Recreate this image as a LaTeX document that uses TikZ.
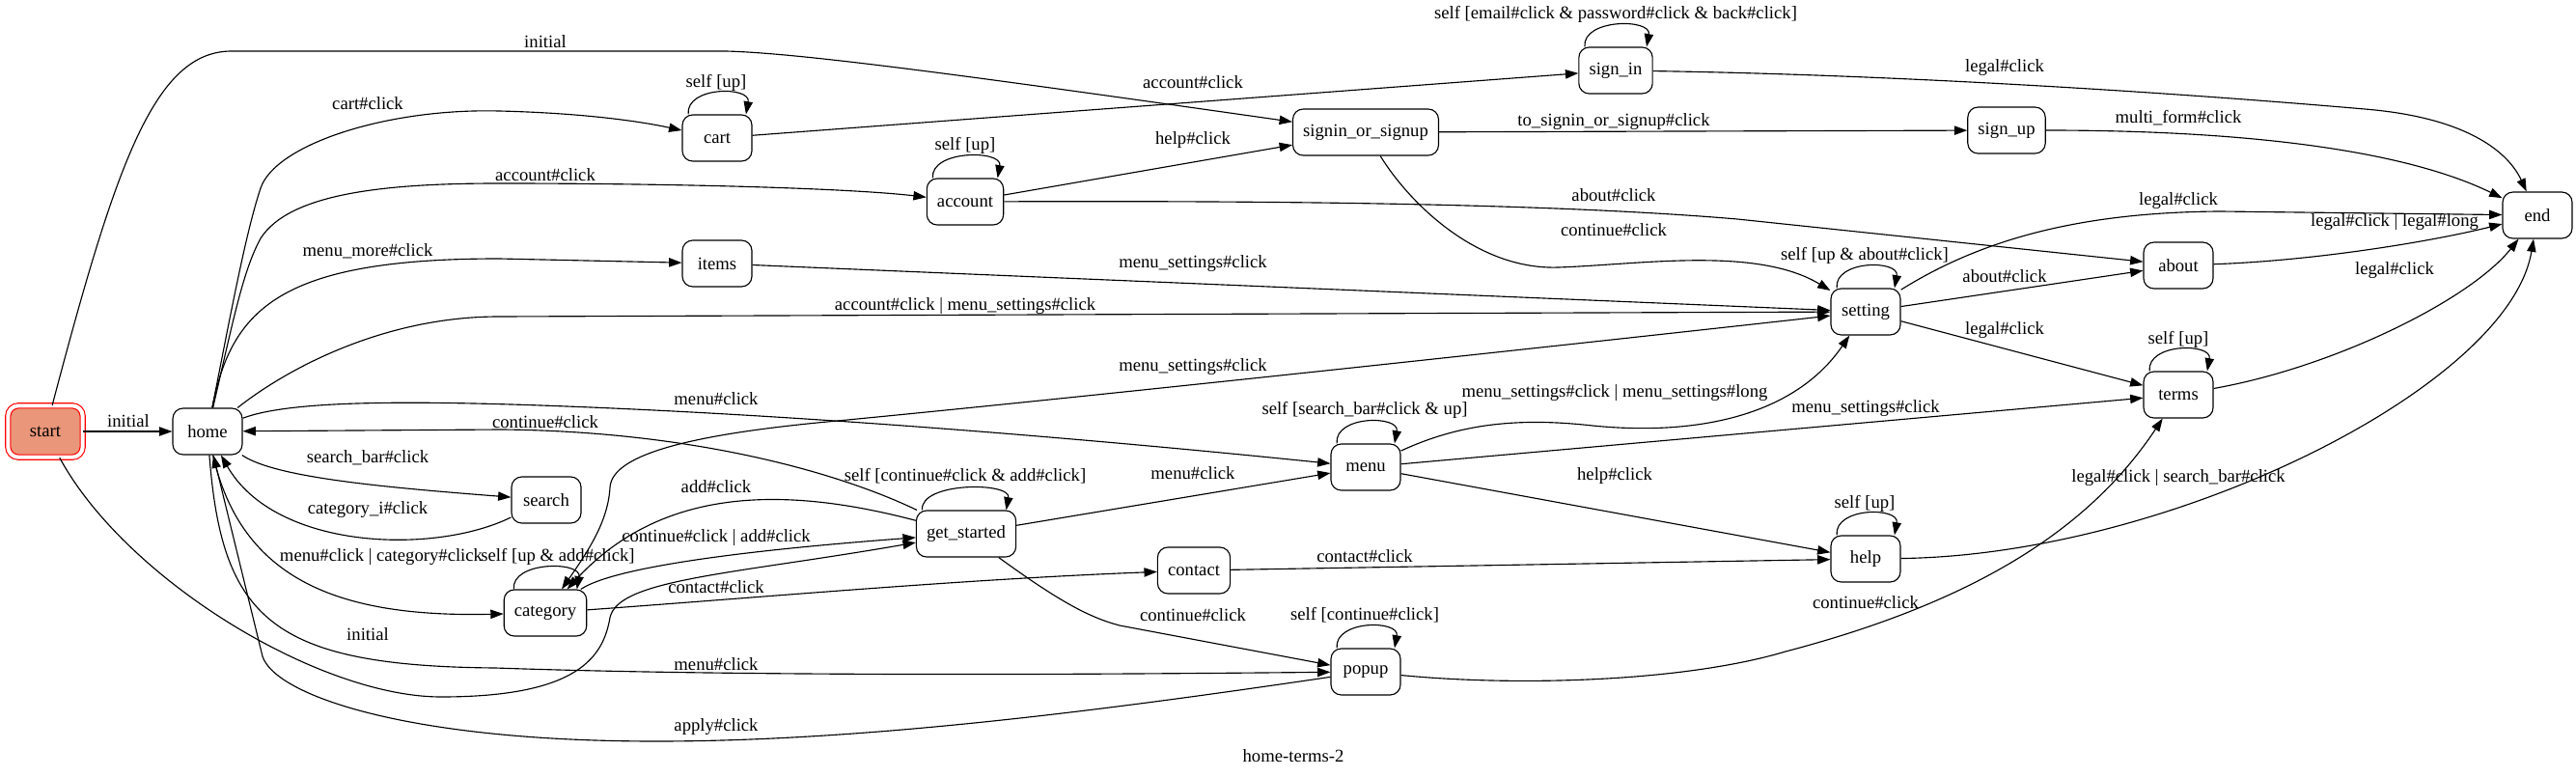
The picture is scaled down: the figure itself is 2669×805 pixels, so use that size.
\documentclass[tikz,border=0pt]{standalone}
\usepackage{fontspec}
\setmainfont{Liberation Serif}
\usetikzlibrary{arrows.meta}
\definecolor{startfill}{HTML}{E9967A}

\begin{document}
\begin{tikzpicture}[x=0.75pt,y=-0.75pt,>={Triangle[length=10pt,width=7pt]},line width=0.85pt,
    state/.style={draw,rounded corners=8pt,minimum width=54pt,minimum height=36pt,inner xsep=8pt,font=\fontsize{14}{16}\selectfont},
    lbl/.style={inner sep=0pt,font=\fontsize{14}{16}\selectfont},
    selfloop/.style={to path={.. controls +(-2pt,22pt) and +(4pt,22pt) .. (\tikztotarget)}}]

    \useasboundingbox (0,0) rectangle (2669,805);

    % states
    \node[state,fill=startfill,draw=red,double=white,double distance=3pt,minimum width=58pt,minimum height=40pt] (start) at (47,447) {start};
    \node[state] (home) at (215,447) {home};
    \node[state] (cart) at (743,143) {cart};
    \node[state] (items) at (743,273) {items};
    \node[state] (search) at (566,518) {search};
    \node[state] (category) at (565,635) {category};
    \node[state] (account) at (1000,209) {account};
    \node[state] (getstarted) at (1001,553) {get\_started};
    \node[state] (contact) at (1237,591) {contact};
    \node[state] (signinup) at (1415,137) {signin\_or\_signup};
    \node[state] (menu) at (1415,484) {menu};
    \node[state] (popup) at (1415,696) {popup};
    \node[state] (signin) at (1674,73) {sign\_in};
    \node[state] (signup) at (2079,135) {sign\_up};
    \node[state] (setting) at (1933,323) {setting};
    \node[state] (help) at (1933,579) {help};
    \node[state] (about) at (2257,275) {about};
    \node[state] (terms) at (2257,409) {terms};
    \node[state] (end) at (2629,223) {end};

    % from start
    \draw[->] (start) -- (home);
    \draw[->] (start) .. controls (120,170) and (160,53) .. (240,53) -- (752,53) .. controls (830,55) and (1000,78) .. (signinup);
    \draw[->] (start) .. controls (130,600) and (330,722) .. (457,722) .. controls (600,722) and (625,680) .. (632,640) .. controls (640,600) and (760,595) .. (getstarted);

    % from home
    \draw[->] (home) .. controls (240,320) and (255,240) .. (270,195) .. controls (285,150) and (400,112) .. (517,115) .. controls (600,117) and (660,125) .. (cart);
    \draw[->] (home) .. controls (242,330) and (252,280) .. (270,247) .. controls (300,200) and (400,190) .. (517,190) .. controls (700,190) and (880,195) .. (account);
    \draw[->] (home) .. controls (240,320) and (290,268) .. (517,268) -- (items);
    \draw[->] (home) .. controls (300,380) and (400,328) .. (517,328) -- (setting);
    \draw[->] (home) .. controls (300,415) and (420,414) .. (612,422) .. controls (900,434) and (1200,462) .. (menu);
    \draw[->] (home) .. controls (285,495) and (400,505) .. (search);
    \draw[->] (home) .. controls (250,600) and (350,640) .. (category);
    \draw[->] (home) .. controls (230,640) and (280,690) .. (513,692) .. controls (800,702) and (1200,698) .. (popup);
    \draw[->] (search) .. controls (450,575) and (285,570) .. (home);
    \draw[->] (getstarted) .. controls (870,490) and (720,447) .. (520,445) -- (home);
    \draw[->] (popup) .. controls (1150,735) and (900,768) .. (680,768) .. controls (420,768) and (285,720) .. (272,680) -- (home);

    % from category
    \draw[->] ([xshift=8pt]category.north west) to[selfloop] ([xshift=-8pt]category.north east);
    \draw[->] (category) .. controls (800,618) and (1000,600) .. (contact);
    \draw[->] (category) .. controls (640,585) and (800,568) .. (getstarted);
    \draw[<->] (category) .. controls (610,570) and (630,540) .. (632,505) .. controls (634,470) and (720,450) .. (857,437) .. controls (1100,414) and (1600,360) .. (setting);

    % from get_started
    \draw[->] ([xshift=5pt]getstarted.north west) to[selfloop] ([xshift=-8pt]getstarted.north east);
    \draw[->] (getstarted) -- (menu);
    \draw[->] (getstarted) .. controls (1100,625) and (1130,640) .. (1160,648) -- (popup);
    \draw[->] (getstarted) .. controls (800,500) and (680,510) .. (category);

    % from menu, contact, popup
    \draw[->] ([xshift=5pt]menu.north west) to[selfloop] ([xshift=-5pt]menu.north east);
    \draw[->] (menu) .. controls (1510,440) and (1570,432) .. (1650,441) .. controls (1760,452) and (1860,430) .. (setting);
    \draw[->] (menu) -- (terms);
    \draw[->] (menu) -- (help);
    \draw[->] (contact) -- (help);
    \draw[->] ([xshift=5pt]popup.north west) to[selfloop] ([xshift=-5pt]popup.north east);
    \draw[->] (popup) .. controls (1580,712) and (1750,705) .. (1850,675) .. controls (2060,620) and (2170,540) .. (terms);

    % from cart, account, items
    \draw[->] ([xshift=5pt]cart.north west) to[selfloop] ([xshift=-5pt]cart.north east);
    \draw[->] (cart) -- (signin);
    \draw[->] ([xshift=5pt]account.north west) to[selfloop] ([xshift=-5pt]account.north east);
    \draw[->] (account) -- (signinup);
    \draw[->] (account) .. controls (1300,208) and (1600,210) .. (1800,227) -- (about);
    \draw[->] (items) -- (setting);

    % from signin_or_signup, sign_in, sign_up
    \draw[->] (signinup) -- (signup);
    \draw[->] (signinup) .. controls (1460,210) and (1530,280) .. (1615,277) .. controls (1700,274) and (1820,255) .. (setting);
    \draw[->] ([xshift=5pt]signin.north west) to[selfloop] ([xshift=-5pt]signin.north east);
    \draw[->] (signin) .. controls (2000,78) and (2300,100) .. (2450,113) .. controls (2560,122) and (2600,160) .. (end);
    \draw[->] (signup) .. controls (2350,135) and (2500,160) .. (end);

    % from setting, about, terms, help
    \draw[->] ([xshift=5pt]setting.north west) to[selfloop] ([xshift=-5pt]setting.north east);
    \draw[->] (setting) .. controls (2050,250) and (2150,220) .. (2300,219) -- (end);
    \draw[->] (setting) -- (about);
    \draw[->] (setting) -- (terms);
    \draw[->] (about) .. controls (2400,270) and (2520,250) .. (end);
    \draw[->] ([xshift=5pt]terms.north west) to[selfloop] ([xshift=-5pt]terms.north east);
    \draw[->] (terms) .. controls (2420,380) and (2560,310) .. (end);
    \draw[->] ([xshift=5pt]help.north west) to[selfloop] ([xshift=-5pt]help.north east);
    \draw[->] (help) .. controls (2250,575) and (2600,400) .. (end);

    % edge labels
    \node[lbl] (l1) at (133,436) {initial};
    \node[lbl] (l2) at (565,43) {initial};
    \node[lbl] (l3) at (381,657) {initial};
    \node[lbl] (l4) at (381,107) {cart\#click};
    \node[lbl] (l5) at (565,181) {account\#click};
    \node[lbl] (l6) at (381,260) {menu\_more\#click};
    \node[lbl] (l7) at (1000,317) {account\#click | menu\_settings\#click};
    \node[lbl] (l8) at (742,413) {menu\#click};
    \node[lbl] (l9) at (565,437) {continue\#click};
    \node[lbl] (l10) at (381,474) {search\_bar\#click};
    \node[lbl] (l11) at (381,528) {category\_i\#click};
    \node[lbl] (l12) at (395,577) {menu\#click | category\#click};
    \node[lbl] (l13) at (578,577) {self [up \& add\#click]};
    \node[lbl] (l14) at (742,688) {menu\#click};
    \node[lbl] (l15) at (742,753) {apply\#click};
    \node[lbl] (l16) at (742,504) {add\#click};
    \node[lbl] (l17) at (742,557) {continue\#click | add\#click};
    \node[lbl] (l18) at (742,608) {contact\#click};
    \node[lbl] (l19) at (1000,493) {self [continue\#click \& add\#click]};
    \node[lbl] (l20) at (1236,490) {menu\#click};
    \node[lbl] (l21) at (1236,637) {continue\#click};
    \node[lbl] (l22) at (1236,380) {menu\_settings\#click};
    \node[lbl] (l23) at (1236,273) {menu\_settings\#click};
    \node[lbl] (l24) at (742,86) {self [up]};
    \node[lbl] (l25) at (1236,85) {account\#click};
    \node[lbl] (l26) at (1000,151) {self [up]};
    \node[lbl] (l27) at (1236,145) {help\#click};
    \node[lbl] (l28) at (1672,126) {to\_signin\_or\_signup\#click};
    \node[lbl] (l29) at (1672,202) {about\#click};
    \node[lbl] (l30) at (1672,238) {continue\#click};
    \node[lbl] (l31) at (1674,15) {self [email\#click \& password\#click \& back\#click]};
    \node[lbl] (l32) at (2077,70) {legal\#click};
    \node[lbl] (l33) at (2257,122) {multi\_form\#click};
    \node[lbl] (l34) at (2257,208) {legal\#click};
    \node[lbl] (l35) at (2481,230) {legal\#click | legal\#long};
    \node[lbl] (l36) at (1932,265) {self [up \& about\#click]};
    \node[lbl] (l37) at (2077,286) {about\#click};
    \node[lbl] (l38) at (2077,342) {legal\#click};
    \node[lbl] (l39) at (2481,280) {legal\#click};
    \node[lbl] (l40) at (2257,352) {self [up]};
    \node[lbl] (l41) at (1414,425) {self [search\_bar\#click \& up]};
    \node[lbl] (l42) at (1673,407) {menu\_settings\#click | menu\_settings\#long};
    \node[lbl] (l43) at (1933,423) {menu\_settings\#click};
    \node[lbl] (l44) at (1673,493) {help\#click};
    \node[lbl] (l45) at (1932,522) {self [up]};
    \node[lbl] (l46) at (2257,495) {legal\#click | search\_bar\#click};
    \node[lbl] (l47) at (1414,576) {contact\#click};
    \node[lbl] (l48) at (1414,637) {self [continue\#click]};
    \node[lbl] (l49) at (1933,624) {continue\#click};

    % caption
    \node[lbl] (title) at (1340,783) {home-terms-2};

\end{tikzpicture}
\end{document}
